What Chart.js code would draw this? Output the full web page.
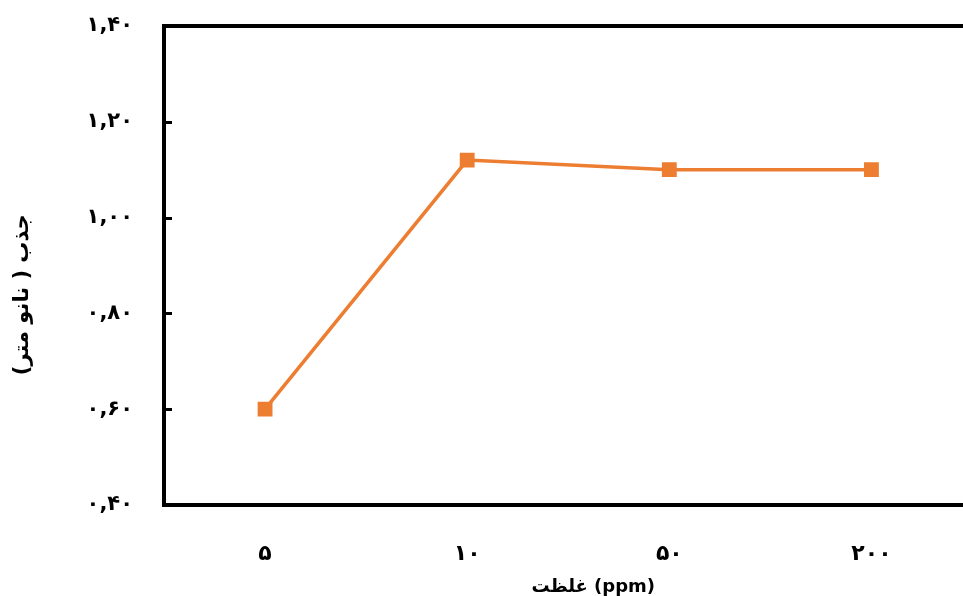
<!DOCTYPE html>
<html lang="fa">
<head>
  <meta charset="UTF-8">
  <title>Absorbance vs concentration</title>
  <style>
    html, body {
      margin: 0;
      padding: 0;
      overflow: hidden;
      background: #fff;
    }
    canvas {
      display: block;
    }
  </style>
</head>
<body>
  <canvas id="chart" width="983" height="596"></canvas>

  <script src="https://cdn.jsdelivr.net/npm/chart.js"></script>
  <script>
    // data
    const categories = ['۵', '۱۰', '۵۰', '۲۰۰'];
    const absorbance = [0.60, 1.12, 1.10, 1.10];
    const yTickValues = [0.4, 0.6, 0.8, 1.0, 1.2, 1.4];
    const yTickLabels = ['۰,۴۰', '۰,۶۰', '۰,۸۰', '۱,۰۰', '۱,۲۰', '۱,۴۰'];
    const xTitle = 'غلظت (ppm)';
    const yTitle = 'جذب ( نانو متر)';

    const fontFamily = '"DejaVu Sans", sans-serif';

    // top border of the plot box and the short inward ticks on the y axis
    const framePlugin = {
      id: 'frame',
      afterDraw(chart) {
        const { ctx, chartArea, scales } = chart;
        ctx.save();
        ctx.strokeStyle = '#000';
        ctx.lineWidth = 4;
        ctx.beginPath();
        ctx.moveTo(chartArea.left - 2, chartArea.top);
        ctx.lineTo(chart.width, chartArea.top);
        ctx.stroke();

        ctx.lineWidth = 3;
        scales.y.ticks.forEach(t => {
          const y = Math.round(scales.y.getPixelForValue(t.value)) + 0.5;
          ctx.beginPath();
          ctx.moveTo(chartArea.left, y);
          ctx.lineTo(chartArea.left + 8, y);
          ctx.stroke();
        });
        ctx.restore();
      }
    };

    new Chart(document.getElementById('chart'), {
      type: 'line',
      data: {
        labels: categories,
        datasets: [{
          data: absorbance,
          borderColor: '#ED7D31',
          backgroundColor: '#ED7D31',
          borderWidth: 3.5,
          pointStyle: 'rect',
          pointRadius: 10.5,
          pointHoverRadius: 10.5,
          pointBorderWidth: 0,
          tension: 0
        }]
      },
      options: {
        responsive: false,
        animation: false,
        layout: {
          padding: { top: 26, right: 3, left: 0, bottom: 0 }
        },
        plugins: {
          legend: { display: false },
          tooltip: { enabled: false }
        },
        scales: {
          x: {
            offset: true,
            afterFit: s => {
              s.height = 91;
              s.paddingLeft = 0;
              s.paddingRight = 0;
            },
            grid: { display: false, drawTicks: false },
            border: { display: true, color: '#000', width: 4 },
            ticks: {
              color: '#000',
              padding: 36,
              font: { family: fontFamily, size: 22, weight: 'bold' }
            },
            title: {
              display: true,
              text: '        ' + xTitle,
              color: '#000',
              padding: { top: 0, bottom: 0 },
              font: { family: fontFamily, size: 18, weight: 'bold', lineHeight: 1 }
            }
          },
          y: {
            min: 0.4,
            max: 1.4,
            afterFit: s => {
              s.width = 164;
              s.paddingTop = 0;
              s.paddingBottom = 0;
            },
            afterBuildTicks: s => { s.ticks = yTickValues.map(v => ({ value: v })); },
            grid: { display: false, drawTicks: false },
            border: { display: true, color: '#000', width: 4 },
            ticks: {
              color: '#000',
              padding: 31,
              font: { family: fontFamily, size: 21, weight: 'bold' },
              callback: (v, i) => yTickLabels[i]
            },
            title: {
              display: true,
              text: yTitle + '        ',
              color: '#000',
              padding: { top: 10, bottom: 0 },
              font: { family: fontFamily, size: 21, weight: 'bold' }
            }
          }
        }
      },
      plugins: [framePlugin]
    });
  </script>
</body>
</html>
